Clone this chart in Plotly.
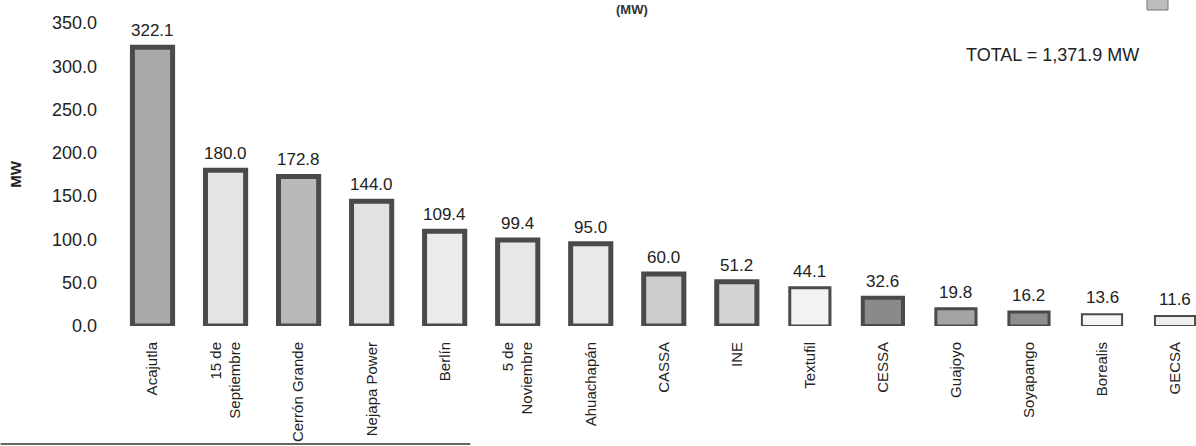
import plotly.graph_objects as go

categories = ["Acajutla", "15 de<br>Septiembre", "Cerrón Grande", "Nejapa Power", "Berlín",
              "5 de<br>Noviembre", "Ahuachapán", "CASSA", "INE", "Textufil", "CESSA",
              "Guajoyo", "Soyapango", "Borealis", "GECSA"]
capacity_mw = [322.1, 180.0, 172.8, 144.0, 109.4, 99.4, 95.0, 60.0, 51.2, 44.1, 32.6,
               19.8, 16.2, 13.6, 11.6]
y_ticks = [0, 50, 100, 150, 200, 250, 300, 350]
total_text = "TOTAL = 1,371.9 MW"

fill_colors = ["#a9a9a9", "#e4e4e4", "#b9b9b9", "#e2e2e2", "#ebebeb", "#e8e8e8", "#e9e9e9",
               "#cdcdcd", "#d4d4d4", "#f3f3f3", "#8a8a8a", "#a4a4a4", "#8e8e8e", "#f6f6f6", "#eeeeee"]
line_widths = [5, 5, 5, 5, 5, 5, 5, 5, 5, 3, 4, 3, 3, 2, 2]

FONT = "Liberation Sans, Arial, sans-serif"

fig = go.Figure()
fig.add_trace(go.Bar(
    x=categories, y=capacity_mw, width=0.55,
    marker=dict(color=fill_colors, line=dict(color="#4a4a4a", width=line_widths)),
    hoverinfo="x+y", showlegend=False,
))

for c, v in zip(categories, capacity_mw):
    fig.add_annotation(x=c, y=v, xref="x", yref="y", text=f"{v:.1f}", showarrow=False,
                       yanchor="bottom", yshift=5,
                       font=dict(family=FONT, size=17, color="#222"))

fig.add_annotation(xref="paper", yref="paper", x=(1052 - 115.5) / 1080.5, y=1 - 32 / 303,
                   text=total_text, showarrow=False, xanchor="center", yanchor="middle",
                   font=dict(family=FONT, size=18, color="#222"))
fig.add_annotation(xref="paper", yref="paper", x=(632 - 115.5) / 1080.5, y=1.0 + 23 / 303,
                   text="<b>(MW)</b>", showarrow=False, xanchor="center", yanchor="top",
                   font=dict(family=FONT, size=13, color="#333"))

# small legend box remnant at top right and scan border line at the bottom
fig.add_shape(type="rect", xref="paper", yref="paper", x0=(1147 - 115.5) / 1080.5,
              x1=(1168 - 115.5) / 1080.5, y0=1 + 13 / 303, y1=1 + 24 / 303,
              fillcolor="#bdbdbd", line=dict(color="#777", width=1))
fig.add_shape(type="line", xref="paper", yref="paper", x0=-115.5 / 1080.5, x1=(470 - 115.5) / 1080.5,
              y0=-118 / 303, y1=-118 / 303, line=dict(color="#666", width=2))

fig.update_layout(
    width=1196, height=446,
    margin=dict(l=115.5, r=0, t=23, b=120),
    paper_bgcolor="white", plot_bgcolor="white",
    font=dict(family=FONT, color="#222"),
    bargap=0.45,
)
fig.update_xaxes(range=[-0.5, 14.287], tickangle=-90, showgrid=False, showline=False,
                 zeroline=False, ticks="", ticklabelstandoff=12,
                 tickfont=dict(family=FONT, size=15, color="#222"))
fig.update_yaxes(range=[0, 350], tickvals=y_ticks, tickformat=".1f", showgrid=False,
                 showline=False, zeroline=False, ticks="", ticklabelstandoff=18,
                 tickfont=dict(family=FONT, size=18, color="#222"),
                 title=dict(text="<b>MW</b>", font=dict(family=FONT, size=15, color="#222"),
                            standoff=26))

fig.write_html("out.html")
